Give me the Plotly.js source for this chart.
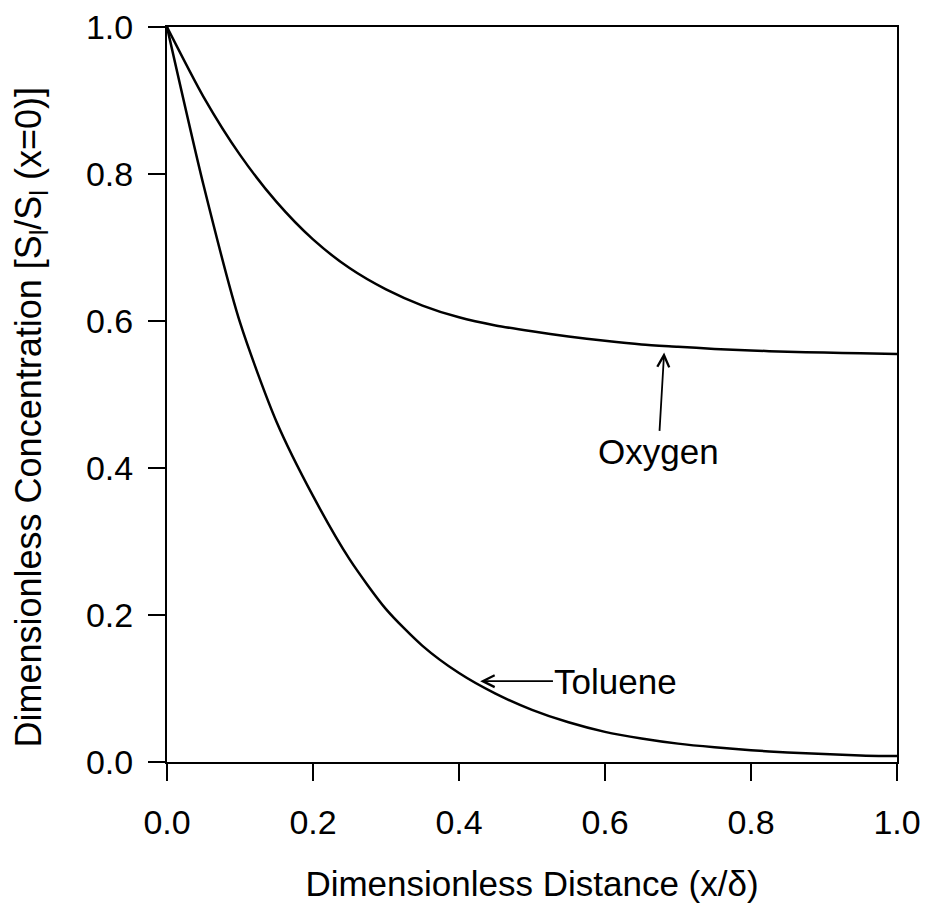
<!DOCTYPE html>
<html>
<head>
<meta charset="utf-8">
<script src="https://cdn.plot.ly/plotly-3.0.1.min.js"></script>
<style>html,body{margin:0;padding:0;background:#fff;}#chart{width:927px;height:909px;}</style>
</head>
<body>
<div id="chart"></div>
<script>
const distance = [0, 0.05, 0.1, 0.15, 0.2, 0.25, 0.3, 0.35, 0.4, 0.45, 0.5, 0.55, 0.6, 0.65, 0.7, 0.75, 0.8, 0.85, 0.9, 0.95, 1.0];
const oxygen   = [1.0, 0.905, 0.826, 0.762, 0.711, 0.672, 0.643, 0.621, 0.605, 0.594, 0.586, 0.579, 0.573, 0.568, 0.565, 0.562, 0.560, 0.558, 0.557, 0.556, 0.555];
const toluene  = [1.0, 0.785, 0.598, 0.463, 0.362, 0.276, 0.208, 0.158, 0.121, 0.093, 0.071, 0.054, 0.041, 0.032, 0.025, 0.020, 0.016, 0.013, 0.011, 0.009, 0.008];
const tickVals = [0, 0.2, 0.4, 0.6, 0.8, 1.0];
const tickText = ["0.0", "0.2", "0.4", "0.6", "0.8", "1.0"];
const xTitle = "Dimensionless Distance (x/δ)";
const yTitle = "Dimensionless Concentration [S<sub>l</sub>/S<sub>l</sub> (x=0)]";

const fam = "Liberation Sans, Arial, Helvetica, sans-serif";
const tickFont = {family: fam, size: 34, color: "#000"};
const titleFont = {family: fam, size: 35, color: "#000"};
const yTitleFont = {family: fam, size: 36, color: "#000"};

const traces = [
  {x: distance, y: oxygen, name: "Oxygen", mode: "lines", line: {color: "#000", width: 2.5, shape: "spline", smoothing: 0.7}},
  {x: distance, y: toluene, name: "Toluene", mode: "lines", line: {color: "#000", width: 2.5, shape: "spline", smoothing: 0.7}}
];

const layout = {
  width: 927, height: 909,
  margin: {l: 167, r: 30, t: 27, b: 147},
  paper_bgcolor: "#fff", plot_bgcolor: "#fff",
  showlegend: false,
  font: tickFont,
  xaxis: {
    range: [0, 1], tickvals: tickVals, ticktext: tickText,
    ticks: "outside", ticklen: 17, tickwidth: 2, tickcolor: "#000",
    ticklabelstandoff: 12,
    showline: true, linecolor: "#000", linewidth: 2, mirror: true,
    showgrid: false, zeroline: false,
    tickfont: tickFont,
    title: {text: xTitle, font: titleFont, standoff: 32}
  },
  yaxis: {
    range: [0, 1], tickvals: tickVals, ticktext: tickText,
    ticks: "outside", ticklen: 17, tickwidth: 2, tickcolor: "#000",
    ticklabelstandoff: 8,
    showline: true, linecolor: "#000", linewidth: 2, mirror: true,
    showgrid: false, zeroline: false,
    tickfont: tickFont
  },
  annotations: [
    {x: 0, y: 0.5, xref: "paper", yref: "paper", xanchor: "center", yanchor: "middle",
     xshift: -137, yshift: -23, textangle: -90, showarrow: false,
     text: yTitle, font: yTitleFont},
    {x: 0.681, y: 0.557, ax: 0.673, ay: 0.422, xref: "x", yref: "y", axref: "x", ayref: "y",
     text: "Oxygen", font: titleFont, showarrow: true, arrowhead: 5, arrowsize: 1.3, arrowwidth: 1.8, arrowcolor: "#000", standoff: 0},
    {x: 0.429, y: 0.11, ax: 0.615, ay: 0.11, xref: "x", yref: "y", axref: "x", ayref: "y",
     text: "Toluene", font: titleFont, showarrow: true, arrowhead: 5, arrowsize: 1.3, arrowwidth: 1.8, arrowcolor: "#000", standoff: 0}
  ]
};

Plotly.newPlot("chart", traces, layout, {displayModeBar: false, staticPlot: true});
</script>
</body>
</html>
